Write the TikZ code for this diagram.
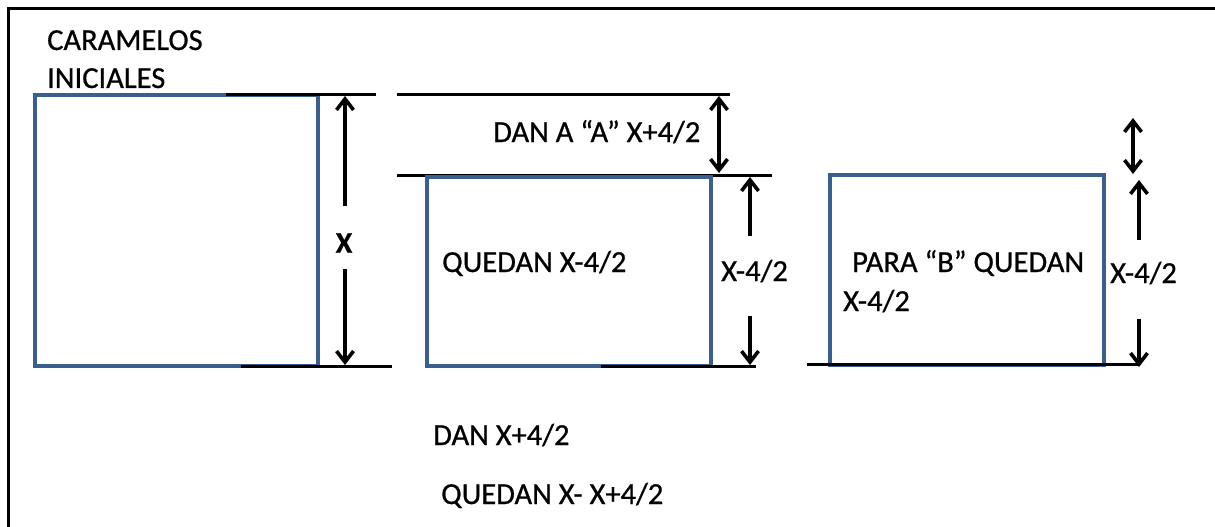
\documentclass[tikz,border=0pt]{standalone}
\usepackage{fontspec}
\setmainfont{Carlito}[FakeBold=0.7]
\usetikzlibrary{arrows.meta}
\definecolor{boxblue}{HTML}{3A5F8E}
\tikzset{
  lbl/.style={anchor=base west, inner sep=0pt, font=\fontsize{30.5}{36}\selectfont},
  blk/.style={draw=black, line width=3pt},
  bluebox/.style={draw=boxblue, line width=3.2pt},
  arr/.style={draw=black, line width=3.6pt, -{Straight Barb[length=11pt,width=17pt,line width=3.6pt]}},
  darr/.style={draw=black, line width=3.6pt, {Straight Barb[length=11pt,width=17pt,line width=3.6pt]}-{Straight Barb[length=11pt,width=17pt,line width=3.6pt]}}
}
\begin{document}
\begin{tikzpicture}[x=1pt,y=-1pt]
\useasboundingbox (0,0) rectangle (1215,527);
% frame
\coordinate (fTL) at (8,9);
\coordinate (fTR) at (1215,9);
\coordinate (fBL) at (8,527);
\draw[blk] (fTR) -- (fTL) -- (fBL);

% box 1
\draw[bluebox] (35,95) rectangle (318,366);
\coordinate (l1a) at (226,94); \coordinate (l1b) at (376,94);
\coordinate (l2a) at (241,366); \coordinate (l2b) at (392,366);
\draw[blk] (l1a) -- (l1b);
\draw[blk] (l2a) -- (l2b);
\node[inner sep=0pt, font=\fontsize{30}{36}\selectfont\bfseries] (xl) at (344,243) {X};
\coordinate (x1a) at (345,206); \coordinate (x1b) at (345,96);
\coordinate (x2a) at (345,269); \coordinate (x2b) at (345,365);
\draw[arr] (x1a) -- (x1b);
\draw[arr] (x2a) -- (x2b);
\node[lbl] (car) at (47,50) {CARAMELOS};
\node[lbl] (ini) at (47,88) {INICIALES};

% group 2
\coordinate (l3a) at (397,94); \coordinate (l3b) at (730,94);
\coordinate (l4a) at (397,175); \coordinate (l4b) at (772,175);
\draw[blk] (l3a) -- (l3b);
\draw[blk] (l4a) -- (l4b);
\coordinate (da) at (719,96); \coordinate (db) at (719,173);
\draw[darr] (da) -- (db);
\node[lbl] (danA) at (493,142) {DAN A “A” X+4/2};
\draw[bluebox] (427,177) rectangle (711,366);
\coordinate (l5a) at (601,366); \coordinate (l5b) at (756,366);
\draw[blk] (l5a) -- (l5b);
\node[lbl] (qx) at (442,272) {QUEDAN X-4/2};
\coordinate (y1a) at (750,236); \coordinate (y1b) at (750,177);
\coordinate (y2a) at (750,316); \coordinate (y2b) at (750,365);
\draw[arr] (y1a) -- (y1b);
\draw[arr] (y2a) -- (y2b);
\node[lbl] (xr2) at (721,281) {X-4/2};

% group 3
\draw[bluebox] (830,175) rectangle (1104,365);
\coordinate (l6a) at (807,364); \coordinate (l6b) at (1140,364);
\draw[blk] (l6a) -- (l6b);
\coordinate (za) at (1133,118); \coordinate (zb) at (1133,174);
\draw[darr] (za) -- (zb);
\coordinate (z1a) at (1139,240); \coordinate (z1b) at (1139,180);
\coordinate (z2a) at (1139,319); \coordinate (z2b) at (1139,367);
\draw[arr] (z1a) -- (z1b);
\draw[arr] (z2a) -- (z2b);
\node[lbl] (para) at (852,272) {PARA “B” QUEDAN};
\node[lbl] (para2) at (843,311) {X-4/2};
\node[lbl] (xr3) at (1110,283) {X-4/2};

% bottom texts
\node[lbl] (dan) at (433,445) {DAN X+4/2};
\node[lbl] (qued) at (441,504) {QUEDAN X- X+4/2};
\end{tikzpicture}
\end{document}
